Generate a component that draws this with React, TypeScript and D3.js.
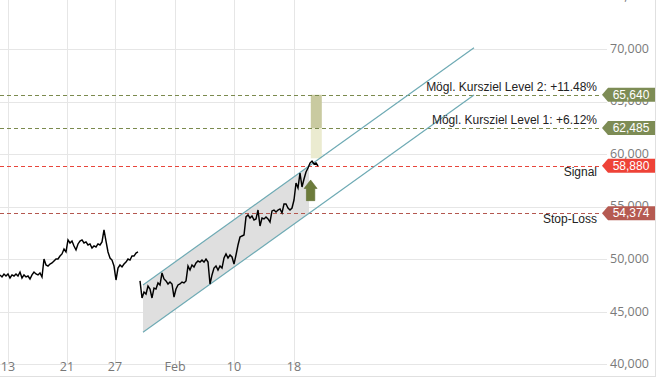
import React from "react";
import * as d3 from "d3";

const W = 666;
const H = 381;

// Axis ticks
const yTicks = [40000, 45000, 50000, 55000, 60000, 65000, 70000, 75000];
const xTickLabels = ["13", "21", "27", "Feb", "10", "18"];
const xTickBars = [4, 33.5, 57.5, 87.5, 117, 147];

// Price history (bar index, one value per bar)
const series1Start = 0;
const series1 = [
  48500, 48310, 48590, 48400, 48590, 48210, 48500, 48400, 48590, 48400,
  48780, 48210, 48500, 48310, 48400, 48120, 48500, 48780, 48590, 48500,
  48690, 48310, 50020, 49450, 49350, 49540, 49640, 49830, 50020, 50020,
  50300, 50500, 50970, 50690, 51830, 51540, 51730, 51260, 50880, 51450,
  51730, 51830, 51540, 51640, 51350, 51450, 51070, 51260, 51160, 51450,
  51350, 51640, 52780, 51730, 50690, 50110, 49920, 49350, 48020, 49160,
  49450, 49260, 49540, 49730, 50020, 49920, 50300, 50300, 50590, 50690,
];
const series2Start = 70;
const series2 = [
  47930, 46310, 46880, 46690, 47450, 47160, 46310, 47260, 47160, 47740,
  47550, 48690, 48120, 47930, 47640, 47830, 47640, 46400, 47160, 47550,
  47640, 47830, 47740, 47930, 49350, 48970, 49450, 49260, 49640, 49830,
  49730, 49920, 49730, 50020, 49730, 47640, 48500, 49160, 49350, 48970,
  49350, 49160, 50110, 50500, 50110, 50400, 50210, 49540, 50400, 51350,
  52110, 52210, 52300, 54020, 54210, 53920, 54110, 53730, 53830, 54680,
  53160, 53920, 53830, 54020, 53830, 53540, 54590, 54680, 54490, 54680,
  54780, 54400, 55250, 55250, 54870, 54680, 54870, 55630, 57250, 56780,
  58200, 56870, 57630, 58300, 58680, 59150, 59340, 59060, 59150, 58870,
];

// Trend channel
const channelBars = [71.5, 237];
const channelUpper = [47550, 70120];
const channelLower = [43050, 65620];
const channelFillEndBar = 154.5;

// Levels
const levelValues = [65640, 62485, 58880, 54374];
const levelLabels = [
  "Mögl. Kursziel Level 2: +11.48%",
  "Mögl. Kursziel Level 1: +6.12%",
  "Signal",
  "Stop-Loss",
];
const levelLabelBelow = [false, false, true, true];

// Target zone and signal arrow
const targetBars = [155.4, 160.9];
const targetZoneUpper = [62485, 65640];
const targetZoneLower = [59600, 62485];
const arrowBar = 155.3;
const arrowRange = [55570, 57540];

const levelColors = ["#7b8a4e", "#7b8a4e", "#e8453b", "#b4574f"];
const tagColors = ["#7d8c55", "#7d8c55", "#ee4237", "#b55a51"];

const fmt = d3.format(",");

export default function App() {
  const x = d3.scaleLinear().domain([0, 333]).range([0, 666]);
  const y = d3.scaleLinear().domain([40000, 70000]).range([364.3, 49]);

  const line = d3
    .line<[number, number]>()
    .x((d) => x(d[0]))
    .y((d) => y(d[1]));

  const pts1: [number, number][] = series1.map((v, i) => [series1Start + i, v]);
  const pts2: [number, number][] = series2.map((v, i) => [series2Start + i, v]);

  const chan = (bar: number, arr: number[]) => {
    const t = (bar - channelBars[0]) / (channelBars[1] - channelBars[0]);
    return arr[0] + t * (arr[1] - arr[0]);
  };

  const fillPts: [number, number][] = [
    [channelBars[0], chan(channelBars[0], channelUpper)],
    [channelFillEndBar, chan(channelFillEndBar, channelUpper)],
    [channelFillEndBar, chan(channelFillEndBar, channelLower)],
    [channelBars[0], chan(channelBars[0], channelLower)],
  ];
  const fillPath = line(fillPts) + "Z";

  const ax = x(arrowBar);
  const aTop = y(arrowRange[1]);
  const aBot = y(arrowRange[0]);
  const arrowPath = [
    `M${ax},${aTop}`,
    `L${ax + 6.5},${aTop + 8.5}`,
    `L${ax + 4.2},${aTop + 8.5}`,
    `L${ax + 4.2},${aBot}`,
    `L${ax - 4.2},${aBot}`,
    `L${ax - 4.2},${aTop + 8.5}`,
    `L${ax - 6.5},${aTop + 8.5}`,
    "Z",
  ].join(" ");

  const tagTip = 602;
  const tagLeft = 608;
  const tagRight = 655;

  return (
    <svg
      width={W}
      height={H}
      style={{ position: "absolute", left: 0, top: 0, background: "#fff" }}
    >
      <defs>
        <clipPath id="plot">
          <rect x={0} y={0} width={655} height={377} />
        </clipPath>
      </defs>
      {/* vertical grid */}
      {xTickBars.map((b, i) => (
        <line
          key={"vg" + i}
          x1={Math.round(x(b)) + 0.5}
          x2={Math.round(x(b)) + 0.5}
          y1={0}
          y2={y(40000)}
          stroke="#e6e6e6"
        />
      ))}
      {/* horizontal grid */}
      {yTicks.map((v, i) => (
        <line
          key={"hg" + i}
          x1={0}
          x2={607}
          y1={Math.round(y(v)) + 0.5}
          y2={Math.round(y(v)) + 0.5}
          stroke="#e6e6e6"
        />
      ))}
      {/* frame */}
      <line x1={655.5} x2={655.5} y1={0} y2={377} stroke="#e0e0e0" />
      <line x1={0} x2={655.5} y1={376.5} y2={376.5} stroke="#e0e0e0" />

      <g clipPath="url(#plot)">
        {/* channel fill */}
        <path d={fillPath} fill="#dfdfdf" />
        {/* target zone */}
        <rect
          x={x(targetBars[0])}
          width={x(targetBars[1]) - x(targetBars[0])}
          y={y(targetZoneUpper[1])}
          height={y(targetZoneUpper[0]) - y(targetZoneUpper[1])}
          fill="#c9caa0"
        />
        <rect
          x={x(targetBars[0])}
          width={x(targetBars[1]) - x(targetBars[0])}
          y={y(targetZoneLower[1])}
          height={y(targetZoneLower[0]) - y(targetZoneLower[1])}
          fill="#ebebd0"
        />
        {/* level lines */}
        {levelValues.map((v, i) => (
          <line
            key={"lv" + i}
            x1={0}
            x2={tagTip}
            y1={Math.round(y(v)) + 0.5}
            y2={Math.round(y(v)) + 0.5}
            stroke={levelColors[i]}
            strokeDasharray="4,3"
          />
        ))}
        {/* channel lines */}
        <path
          d={line([
            [channelBars[0], channelUpper[0]],
            [channelBars[1], channelUpper[1]],
          ])!}
          stroke="#6eaab4"
          strokeWidth={1.2}
          fill="none"
        />
        <path
          d={line([
            [channelBars[0], channelLower[0]],
            [channelBars[1], channelLower[1]],
          ])!}
          stroke="#6eaab4"
          strokeWidth={1.2}
          fill="none"
        />
        {/* price */}
        <path d={line(pts1)!} stroke="#000" strokeWidth={1.45} fill="none" strokeLinejoin="miter" />
        <path d={line(pts2)!} stroke="#000" strokeWidth={1.45} fill="none" strokeLinejoin="miter" />
        {/* arrow */}
        <path d={arrowPath} fill="#6c7b3b" stroke="#5d6b30" strokeWidth={0.6} />
      </g>

      {/* level annotations */}
      {levelValues.map((v, i) => (
        <text
          key={"lt" + i}
          x={597}
          y={levelLabelBelow[i] ? y(v) + 10 : y(v) - 3.5}
          textAnchor="end"
          fontFamily="'Liberation Sans', Arial, sans-serif"
          fontSize={12}
          fill="#222"
        >
          {levelLabels[i]}
        </text>
      ))}

      {/* y-axis labels */}
      {yTicks.map((v, i) => (
        <text
          key={"yl" + i}
          x={649}
          y={y(v) + 3.8}
          textAnchor="end"
          fontFamily="'Open Sans', sans-serif"
          fontSize={12.5}
          fill="#7a7a7a"
        >
          {fmt(v)}
        </text>
      ))}

      {/* level tags */}
      {levelValues.map((v, i) => {
        const cy = y(v);
        const d = `M${tagTip},${cy} L${tagLeft},${cy - 7} L${tagRight},${cy - 7} L${tagRight},${cy + 7} L${tagLeft},${cy + 7} Z`;
        return (
          <g key={"tg" + i}>
            <path d={d} fill={tagColors[i]} />
            <text
              x={631}
              y={cy + 4.2}
              textAnchor="middle"
              fontFamily="'Liberation Sans', Arial, sans-serif"
              fontSize={12}
              fill="#fff"
            >
              {fmt(v)}
            </text>
          </g>
        );
      })}

      {/* x-axis labels */}
      {xTickBars.map((b, i) => (
        <text
          key={"xl" + i}
          x={x(b)}
          y={370.5}
          textAnchor="middle"
          fontFamily="'Open Sans', sans-serif"
          fontSize={12.5}
          fill="#777"
        >
          {xTickLabels[i]}
        </text>
      ))}
    </svg>
  );
}
